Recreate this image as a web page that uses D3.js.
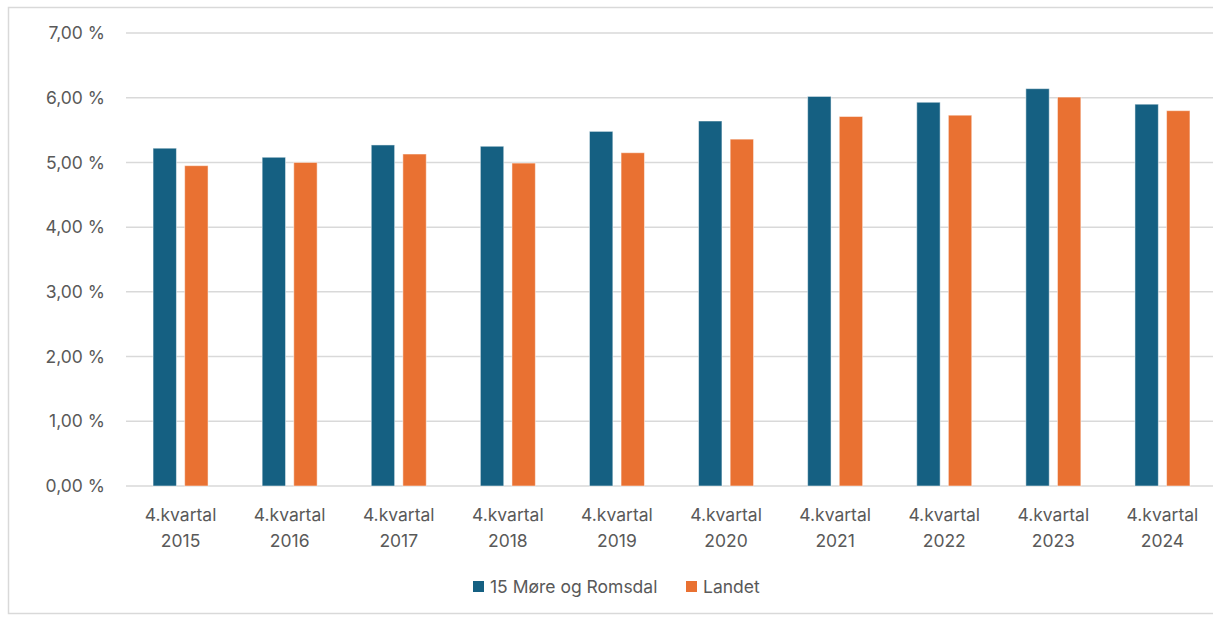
<!DOCTYPE html>
<html>
<head>
<meta charset="utf-8">
<script src="https://cdn.jsdelivr.net/npm/d3@7/dist/d3.min.js"></script>
<style>
  body { margin: 0; background: #fff; }
  text { font-family: Inter, "Open Sans", sans-serif; fill: #595959; }
</style>
</head>
<body>
<svg id="chart"></svg>
<script>
const WIDTH = 1213;
const HEIGHT = 617;
const FONT = 17.5;

const categories = ['2015', '2016', '2017', '2018', '2019', '2020', '2021', '2022', '2023', '2024'];
const seriesNames = ['15 Møre og Romsdal', 'Landet'];
const moreRomsdal = [5.22, 5.08, 5.27, 5.25, 5.48, 5.64, 6.02, 5.93, 6.14, 5.90];
const landet = [4.95, 5.00, 5.13, 4.99, 5.15, 5.36, 5.71, 5.73, 6.01, 5.80];
const yTicks = [0, 1, 2, 3, 4, 5, 6, 7];
const colors = ['#156082', '#E97132'];

const margin = { top: 33, left: 126, right: -4, bottom: 131 };

const svg = d3.select('#chart')
	.attr('width', WIDTH)
	.attr('height', HEIGHT);

// outer frame
svg.append('rect')
	.attr('x', 8.5)
	.attr('y', 7.5)
	.attr('width', 1220)
	.attr('height', 606)
	.attr('fill', 'none')
	.attr('stroke', '#d9d9d9')
	.attr('stroke-width', 1.5);

const x = d3.scaleBand()
	.domain(categories)
	.range([margin.left, WIDTH - margin.right]);

const xInner = d3.scaleBand()
	.domain(seriesNames)
	.range([0, 55])
	.paddingInner(0.26);

const y = d3.scaleLinear()
	.domain([0, 7])
	.range([HEIGHT - margin.bottom, margin.top]);

// gridlines
svg.append('g')
	.selectAll('line')
	.data(yTicks)
	.enter()
	.append('line')
	.attr('x1', margin.left)
	.attr('x2', WIDTH)
	.attr('y1', (d) => y(d))
	.attr('y2', (d) => y(d))
	.attr('stroke', '#d9d9d9')
	.attr('stroke-width', 1.5);

// y labels
svg.append('g')
	.selectAll('text')
	.data(yTicks)
	.enter()
	.append('text')
	.attr('x', 105)
	.attr('y', (d) => y(d))
	.attr('dy', '0.35em')
	.attr('text-anchor', 'end')
	.attr('font-size', FONT)
	.text((d) => d3.format('.2f')(d).replace('.', ',') + ' %');

// bars
const rows = categories.map((c, i) => ({ cat: c, values: [moreRomsdal[i], landet[i]] }));

const groups = svg.append('g')
	.selectAll('g')
	.data(rows)
	.enter()
	.append('g')
	.attr('transform', (d) => `translate(${x(d.cat) + x.bandwidth() / 2 - 27.5},0)`);

groups.selectAll('rect')
	.data((d) => d.values.map((v, k) => ({ name: seriesNames[k], value: v, k })))
	.enter()
	.append('rect')
	.attr('x', (d) => xInner(d.name))
	.attr('width', xInner.bandwidth())
	.attr('y', (d) => y(d.value))
	.attr('height', (d) => y(0) - y(d.value))
	.attr('fill', (d) => colors[d.k])
	.attr('stroke', '#ffffff')
	.attr('stroke-opacity', 0.5)
	.attr('stroke-width', 1);

// x labels
const xLabels = svg.append('g')
	.selectAll('text')
	.data(categories)
	.enter()
	.append('text')
	.attr('x', (d) => x(d) + x.bandwidth() / 2)
	.attr('y', 521)
	.attr('text-anchor', 'middle')
	.attr('font-size', FONT);

xLabels.append('tspan')
	.attr('x', (d) => x(d) + x.bandwidth() / 2)
	.text('4.kvartal');
xLabels.append('tspan')
	.attr('x', (d) => x(d) + x.bandwidth() / 2)
	.attr('dy', 26)
	.text((d) => d);

// legend
const legendPos = [473, 686];
const legend = svg.append('g')
	.selectAll('g')
	.data(seriesNames)
	.enter()
	.append('g')
	.attr('transform', (d, i) => `translate(${legendPos[i]},581)`);

legend.append('rect')
	.attr('width', 11)
	.attr('height', 11)
	.attr('fill', (d, i) => colors[i]);

legend.append('text')
	.attr('x', 17)
	.attr('y', 5.5)
	.attr('dy', '0.35em')
	.attr('font-size', FONT)
	.text((d) => d);
</script>
</body>
</html>
